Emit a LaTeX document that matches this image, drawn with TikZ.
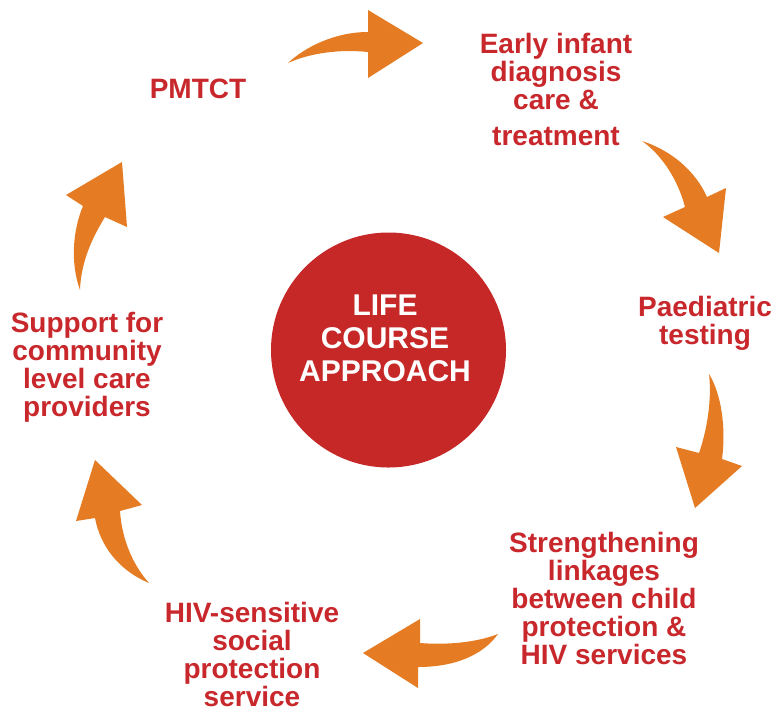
\documentclass[tikz,border=0pt]{standalone}
\usepackage{fontspec}
\setmainfont{Liberation Sans}
\definecolor{arrorange}{HTML}{E57C23}
\definecolor{labred}{HTML}{C8282C}
\definecolor{circred}{HTML}{C62828}
\begin{document}
\begin{tikzpicture}[x=1pt,y=-1pt,
  lab/.style={text=labred,font=\bfseries\fontsize{28}{28}\selectfont,align=center,inner sep=0pt},
  ctext/.style={text=white,font=\bfseries\fontsize{30}{33}\selectfont,align=center,inner sep=0pt},
  arr/.style={fill=arrorange,draw=none}]
\useasboundingbox (0,0) rectangle (775,713);
\fill[white] (0,0) rectangle (775,713);
% central circle
\node[circle,fill=circred,minimum size=235pt,inner sep=0pt] (hub) at (388.5,350) {};
\node[ctext] (hubtext) at (385,338.5) {LIFE\\COURSE\\APPROACH};
% labels
\node[lab] (pmtct) at (198,89) {PMTCT};
\node[lab] (eid) at (556,89) {Early infant\\diagnosis\\care \&\\[8pt]treatment};
\node[lab] (paed) at (705,323) {Paediatric\\testing};
\node[lab] (link) at (604,598) {Strengthening\\linkages\\between child\\protection \&\\HIV services};
\node[lab] (hiv) at (252,654) {HIV-sensitive\\social\\protection\\service};
\node[lab] (supp) at (87,367) {Support for\\community\\level care\\providers};
% arrows
\fill[arr] (288,63) .. controls (305,47) and (335,32) .. (368,32) -- (368,10) -- (423,43) -- (368,78) -- (368,52) .. controls (340,49) and (310,53) .. (288,63) -- cycle;
\fill[arr] (642,141) .. controls (670,150) and (695,170) .. (707,197) -- (726,188) -- (719,253) -- (663,217) -- (685,207) .. controls (678,180) and (662,155) .. (642,141) -- cycle;
\fill[arr] (709,374) .. controls (722,395) and (726,430) .. (722,459) -- (742,466) -- (695,508) -- (676,447) -- (699,453) .. controls (707,430) and (712,400) .. (709,374) -- cycle;
\fill[arr] (498,634) .. controls (475,643) and (445,645) .. (420,643) -- (420,619) -- (363,653) -- (418,688) -- (418,667) .. controls (455,667) and (483,655) .. (498,634) -- cycle;
\fill[arr] (149,583) .. controls (133,565) and (122,540) .. (120,511) -- (142,505) -- (95,460) -- (76,521) -- (95,518) .. controls (100,545) and (118,570) .. (149,583) -- cycle;
\fill[arr] (80,290) .. controls (70,262) and (73,230) .. (83,206) -- (66,195) -- (122,162) -- (127,227) -- (105,217) .. controls (92,238) and (81,262) .. (80,290) -- cycle;
\end{tikzpicture}
\end{document}
